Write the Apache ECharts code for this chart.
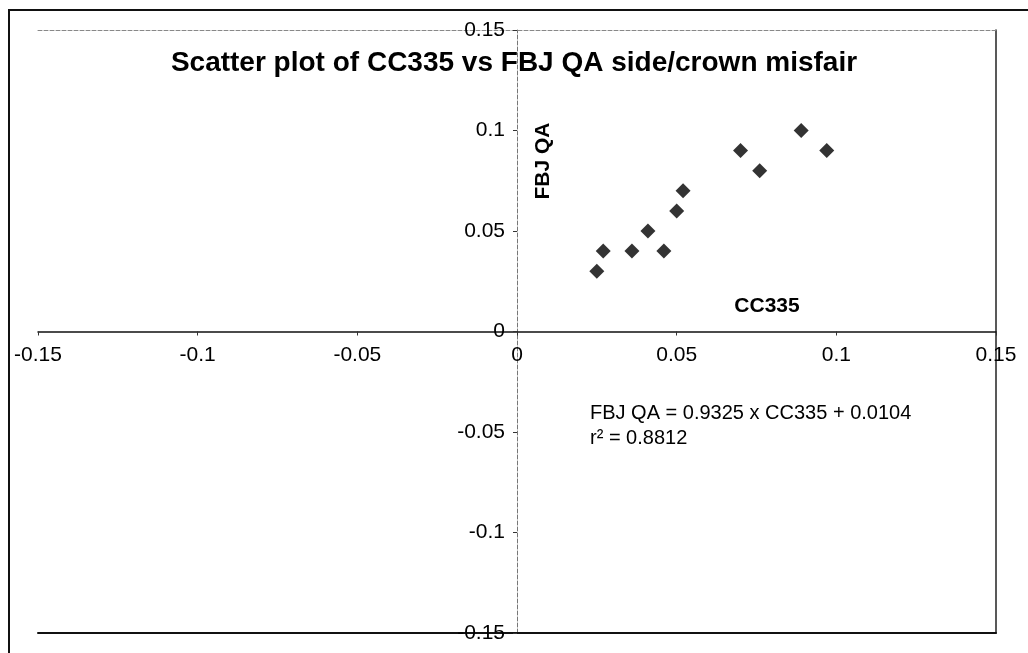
<!DOCTYPE html>
<html>
<head>
<meta charset="utf-8">
<title>Scatter plot of CC335 vs FBJ QA</title>
<script src="https://cdn.jsdelivr.net/npm/echarts@6/dist/echarts.min.js"></script>
<style>
  html, body { margin: 0; padding: 0; background: #fff; }
  #main { position: absolute; left: 0; top: 0; width: 1028px; height: 653px; }
  #frame {
    position: absolute; left: 8px; top: 9px; width: 1030px; height: 660px;
    border-left: 2px solid #111; border-top: 2px solid #111; pointer-events: none;
  }
</style>
</head>
<body>
<div id="main"></div>
<div id="frame"></div>
<script>
// CC335 (x) vs FBJ QA (y)
const cc335 = [0.025, 0.027, 0.036, 0.041, 0.046, 0.050, 0.052, 0.070, 0.076, 0.089, 0.097];
const fbjQa = [0.03, 0.04, 0.04, 0.05, 0.04, 0.06, 0.07, 0.09, 0.08, 0.10, 0.09];
const axisMin = -0.15;
const axisMax = 0.15;
const axisStep = 0.05;
const fitText = ['FBJ QA = 0.9325 x CC335 + 0.0104', 'r\u00b2 = 0.8812'];

const font = '"Liberation Sans", Arial, sans-serif';
const points = cc335.map((x, i) => [x, fbjQa[i]]);
const fmt = v => String(+v.toFixed(2));

// plot area; the two main axes cross in its middle (value 0 is centred)
const W = 1028, H = 653;
const gridBox = { left: 38, right: 32, top: 30, bottom: 20 };
const plotW = W - gridBox.left - gridBox.right;
const plotH = H - gridBox.top - gridBox.bottom;

// plain line-only axes used to draw the plot frame (top/bottom/right)
const frameAxis = (pos, color, width, type) => ({
  type: 'value', gridIndex: 1, position: pos, min: axisMin, max: axisMax,
  axisLine: { show: true, onZero: false, lineStyle: { color: color, width: width, type: type } },
  axisTick: { show: false }, axisLabel: { show: false }, splitLine: { show: false }
});

let myChart = echarts.init(document.getElementById('main'));
let option = {
  animation: false,
  backgroundColor: '#fff',
  title: {
    text: 'Scatter plot of CC335 vs FBJ QA side/crown misfair',
    left: 'center',
    top: 44,
    textStyle: { fontFamily: font, fontSize: 28, fontWeight: 'bold', color: '#000' }
  },
  grid: [
    Object.assign({ containLabel: false, outerBoundsMode: 'none' }, gridBox),
    Object.assign({ containLabel: false, outerBoundsMode: 'none' }, gridBox)
  ],
  xAxis: [
    {
      type: 'value', min: axisMin, max: axisMax, interval: axisStep,
      position: 'bottom', offset: -plotH / 2,
      axisLine: { onZero: false, lineStyle: { color: '#111', width: 1.5 } },
      axisTick: { show: true, length: 4, lineStyle: { color: '#333' } },
      axisLabel: { formatter: fmt, margin: 13, fontFamily: font, fontSize: 21, color: '#000',
                   showMinLabel: true, showMaxLabel: true },
      splitLine: { show: false }
    },
    frameAxis('top', '#888', 1, 'dashed'),
    frameAxis('bottom', '#111', 2, 'solid')
  ],
  yAxis: [
    {
      type: 'value', min: axisMin, max: axisMax, interval: axisStep,
      position: 'left', offset: -plotW / 2,
      axisLine: { onZero: false, lineStyle: { color: '#777', width: 1, type: 'dashed' } },
      axisTick: { show: true, length: 4, lineStyle: { color: '#333' } },
      axisLabel: { formatter: fmt, margin: 12, fontFamily: font, fontSize: 21, color: '#000',
                   showMinLabel: true, showMaxLabel: true },
      splitLine: { show: false }
    },
    frameAxis('right', '#222', 1.5, 'solid')
  ],
  graphic: [
    { type: 'text', x: 543, y: 161, rotation: Math.PI / 2,
      style: { text: 'FBJ QA', font: 'bold 21px ' + font, fill: '#000', align: 'center', verticalAlign: 'middle' } },
    { type: 'text', x: 767, y: 306,
      style: { text: 'CC335', font: 'bold 21px ' + font, fill: '#000', align: 'center', verticalAlign: 'middle' } },
    { type: 'text', x: 590, y: 413,
      style: { text: fitText[0], font: '20px ' + font, fill: '#000', align: 'left', verticalAlign: 'middle' } },
    { type: 'text', x: 590, y: 438,
      style: { text: fitText[1], font: '20px ' + font, fill: '#000', align: 'left', verticalAlign: 'middle' } }
  ],
  series: [
    {
      name: 'FBJ QA',
      type: 'scatter',
      xAxisIndex: 0,
      yAxisIndex: 0,
      symbol: 'diamond',
      symbolSize: 15,
      itemStyle: { color: '#000' },
      data: points
    }
  ]
};
myChart.setOption(option);
</script>
</body>
</html>
